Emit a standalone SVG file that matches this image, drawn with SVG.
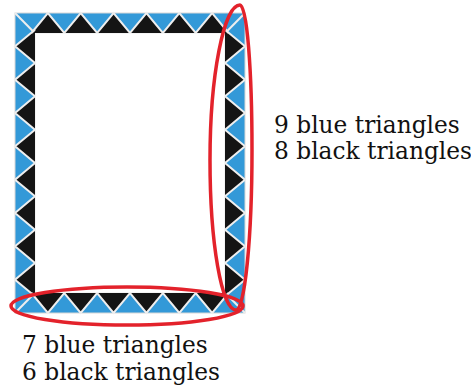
<svg xmlns="http://www.w3.org/2000/svg" width="471" height="387" viewBox="0 0 471 387">
<style>
.lbl{font-family:"DejaVu Serif","Liberation Serif",serif;font-size:23.3px;fill:#111111}
.zig{fill:#141414;stroke:#eeeeee;stroke-width:2;stroke-linejoin:miter}
.diag{stroke:#eeeeee;stroke-width:2}
.ring{fill:none;stroke:#e3222b;stroke-width:3.5}
</style>
<rect width="471" height="387" fill="#ffffff"/>
<g id="frame">
<rect x="15" y="13" width="230" height="300" fill="#3399d8" stroke="#d8d8d8" stroke-width="1"/>
<polygon class="zig" points="31.43,33 47.86,13 64.29,33 80.71,13 97.14,33 113.57,13 130,33 146.43,13 162.86,33 179.29,13 195.71,33 212.14,13 228.57,33 225,29.67 245,46.33 225,63 245,79.67 225,96.33 245,113 225,129.67 245,146.33 225,163 245,179.67 225,196.33 245,213 225,229.67 245,246.33 225,263 245,279.67 225,296.33 228.57,293 212.14,313 195.71,293 179.29,313 162.86,293 146.43,313 130,293 113.57,313 97.14,293 80.71,313 64.29,293 47.86,313 31.43,293 35,296.33 15,279.67 35,263 15,246.33 35,229.67 15,213 35,196.33 15,179.67 35,163 15,146.33 35,129.67 15,113 35,96.33 15,79.67 35,63 15,46.33 35,29.67"/>
<line class="diag" x1="15" y1="13" x2="33" y2="31.3"/>
<line class="diag" x1="245" y1="13" x2="227" y2="31.3"/>
<line class="diag" x1="245" y1="313" x2="227" y2="294.7"/>
<line class="diag" x1="15" y1="313" x2="33" y2="294.7"/>
<rect x="35.5" y="33.5" width="189" height="259" fill="#ffffff" stroke="#f4f4f4" stroke-width="1"/>
</g>
<g id="ring-right">
<path class="ring" d="M240,5 C247,5 252,70.5 252,150 C252,238 244.8,310 236,310 C221.6,310 210,242.8 210,160 C210,75 223.9,5 240,5 Z"/>
</g>
<g id="ring-bottom">
<ellipse class="ring" cx="127" cy="306" rx="116" ry="19"/>
</g>
<g id="label-right">
<text class="lbl" x="274" y="133">9 blue triangles</text>
<text class="lbl" x="274" y="159">8 black triangles</text>
</g>
<g id="label-bottom">
<text class="lbl" x="22" y="353">7 blue triangles</text>
<text class="lbl" x="22" y="380">6 black triangles</text>
</g>
</svg>
